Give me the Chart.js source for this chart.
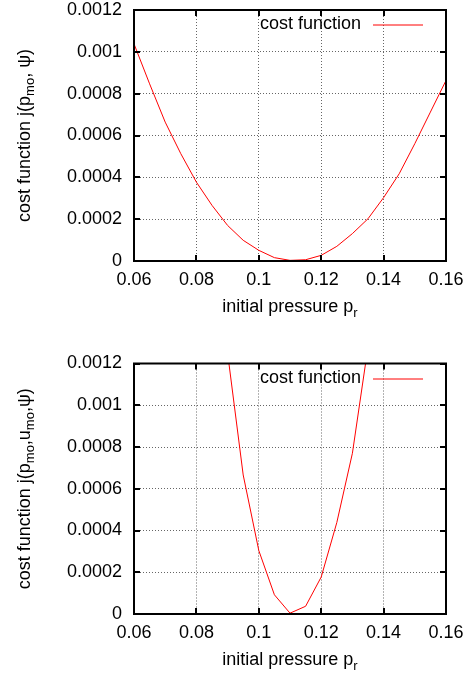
<!DOCTYPE html>
<html><head><meta charset="utf-8">
<script src="https://cdn.jsdelivr.net/npm/chart.js@4/dist/chart.umd.min.js"></script>
<style>
html,body{margin:0;padding:0;background:#fff;width:472px;height:675px;overflow:hidden;}
canvas{position:absolute;left:0;}
</style>
</head><body>
<canvas id="c1" width="472" height="338" style="top:0px"></canvas>
<canvas id="c2" width="472" height="337" style="top:338px"></canvas>
<script>
// ---- data ----
const pressureTop = [0.06, 0.065, 0.07, 0.075, 0.08, 0.085, 0.09, 0.095, 0.1, 0.105, 0.11,
                     0.115, 0.12, 0.125, 0.13, 0.135, 0.14, 0.145, 0.15, 0.155, 0.16];
const costTop = [0.001038, 0.000847, 0.000664, 0.000513, 0.000377, 0.000266, 0.000170,
                 0.000099, 0.000051, 0.000016, 0.000003, 0.000006, 0.000027, 0.000070,
                 0.000131, 0.000202, 0.000303, 0.000417, 0.000561, 0.000712, 0.000863];
const pressureBottom = [0.09, 0.095, 0.1, 0.105, 0.11, 0.115, 0.12, 0.125, 0.13, 0.135];
const costBottom = [0.00125, 0.000666, 0.000304, 0.000092, 0.000004, 0.000037,
                    0.000177, 0.000438, 0.000770, 0.00128];
const seriesLabel = 'cost function';
// "_{...}" marks a subscript
const xTitle = 'initial pressure p_{r}';
const yTitleTop = 'cost function j(p_{mo}, ψ)';
const yTitleBottom = 'cost function j(p_{mo},u_{mo},ψ)';
const xMin = 0.06, xMax = 0.16, xStep = 0.02;
const yMin = 0, yMax = 0.0012, yStep = 0.0002;

const FONT = "'Liberation Sans', Arial, Helvetica, sans-serif";
const LINE_COLOR = '#ff0000';

function parseRich(s) {
  const segs = [];
  const re = /_\{([^}]*)\}/g;
  let last = 0, m;
  while ((m = re.exec(s)) !== null) {
    if (m.index > last) segs.push({t: s.slice(last, m.index), sub: false});
    segs.push({t: m[1], sub: true});
    last = re.lastIndex;
  }
  if (last < s.length) segs.push({t: s.slice(last), sub: false});
  return segs;
}

function drawRich(ctx, text, cx, baseY) {
  const segs = parseRich(text);
  const fMain = '18px ' + FONT, fSub = '13px ' + FONT;
  let w = 0;
  segs.forEach(sg => { ctx.font = sg.sub ? fSub : fMain; sg.w = ctx.measureText(sg.t).width; w += sg.w; });
  let x = cx - w / 2;
  ctx.textAlign = 'left';
  ctx.textBaseline = 'alphabetic';
  segs.forEach(sg => {
    ctx.font = sg.sub ? fSub : fMain;
    ctx.fillText(sg.t, x, baseY + (sg.sub ? 4.5 : 0));
    x += sg.w;
  });
}

const framePlugin = {
  id: 'frame',
  afterDatasetsDraw(chart, args, opts) {
    const {ctx, chartArea: a, scales: {x, y}} = chart;
    ctx.save();
    // key
    const ds = chart.data.datasets[0];
    ctx.font = '18px ' + FONT;
    ctx.fillStyle = '#000';
    ctx.textAlign = 'right';
    ctx.textBaseline = 'middle';
    ctx.fillText(ds.label, a.right - 85, a.top + 14.5);
    ctx.strokeStyle = LINE_COLOR;
    ctx.lineWidth = 1;
    ctx.setLineDash([]);
    ctx.beginPath();
    ctx.moveTo(a.right - 73, Math.round(a.top + 15));
    ctx.lineTo(a.right - 23, Math.round(a.top + 15));
    ctx.stroke();
    // inward tick marks on all four sides
    ctx.strokeStyle = '#000';
    ctx.lineWidth = 2;
    ctx.beginPath();
    x.ticks.forEach(t => {
      const p = Math.round(x.getPixelForValue(t.value));
      ctx.moveTo(p, a.bottom); ctx.lineTo(p, a.bottom - 6);
      ctx.moveTo(p, a.top); ctx.lineTo(p, a.top + 6);
    });
    y.ticks.forEach(t => {
      const p = Math.round(y.getPixelForValue(t.value));
      ctx.moveTo(a.left, p); ctx.lineTo(a.left + 6, p);
      ctx.moveTo(a.right, p); ctx.lineTo(a.right - 6, p);
    });
    ctx.stroke();
    // border
    ctx.lineWidth = 2;
    ctx.strokeRect(a.left, a.top, a.right - a.left, a.bottom - a.top);
    // axis titles with real subscripts
    ctx.fillStyle = '#000';
    drawRich(ctx, opts.xTitle, (a.left + a.right) / 2, a.bottom + opts.xTitleBase);
    ctx.save();
    ctx.translate(opts.yTitleBase, (a.top + a.bottom) / 2);
    ctx.rotate(-Math.PI / 2);
    drawRich(ctx, opts.yTitle, 0, 0);
    ctx.restore();
    ctx.restore();
  }
};

function fmt(v) { return String(Number(v.toFixed(5))); }

function makeChart(id, xs, ys, yTitle, padTop, xHeight, xTitleBase) {
  const pts = xs.map((v, i) => ({x: v, y: ys[i]}));
  return new Chart(document.getElementById(id), {
    type: 'line',
    data: {
      datasets: [{
        label: seriesLabel,
        data: pts,
        borderColor: LINE_COLOR,
        borderWidth: 1,
        pointRadius: 0,
        fill: false,
        tension: 0
      }]
    },
    options: {
      responsive: false,
      animation: false,
      devicePixelRatio: 1,
      layout: {padding: {top: padTop, right: 26, left: 0, bottom: 0}},
      plugins: {
        legend: {display: false},
        tooltip: {enabled: false},
        frame: {xTitle: xTitle, yTitle: yTitle, xTitleBase: xTitleBase, yTitleBase: 29.5}
      },
      scales: {
        x: {
          type: 'linear', min: xMin, max: xMax,
          afterFit(s) { s.height = xHeight; s.paddingLeft = 0; s.paddingRight = 0; },
          ticks: {stepSize: xStep, padding: 8, color: '#000', maxRotation: 0,
                  font: {family: FONT, size: 18}, callback: fmt},
          grid: {color: '#666', lineWidth: 1, drawTicks: false},
          border: {display: false, dash: [1, 2]},
          title: {display: false, text: xTitle}
        },
        y: {
          type: 'linear', min: yMin, max: yMax,
          afterFit(s) { s.width = 134; s.paddingTop = 0; s.paddingBottom = 0; },
          ticks: {stepSize: yStep, padding: 12, color: '#000',
                  font: {family: FONT, size: 18}, callback: fmt},
          grid: {color: '#666', lineWidth: 1, drawTicks: false},
          border: {display: false, dash: [1, 2]},
          title: {display: false, text: yTitle}
        }
      }
    },
    plugins: [framePlugin]
  });
}

makeChart('c1', pressureTop, costTop, yTitleTop, 10, 77, 51);
makeChart('c2', pressureBottom, costBottom, yTitleBottom, 25.5, 61, 51);
</script>
</body></html>
